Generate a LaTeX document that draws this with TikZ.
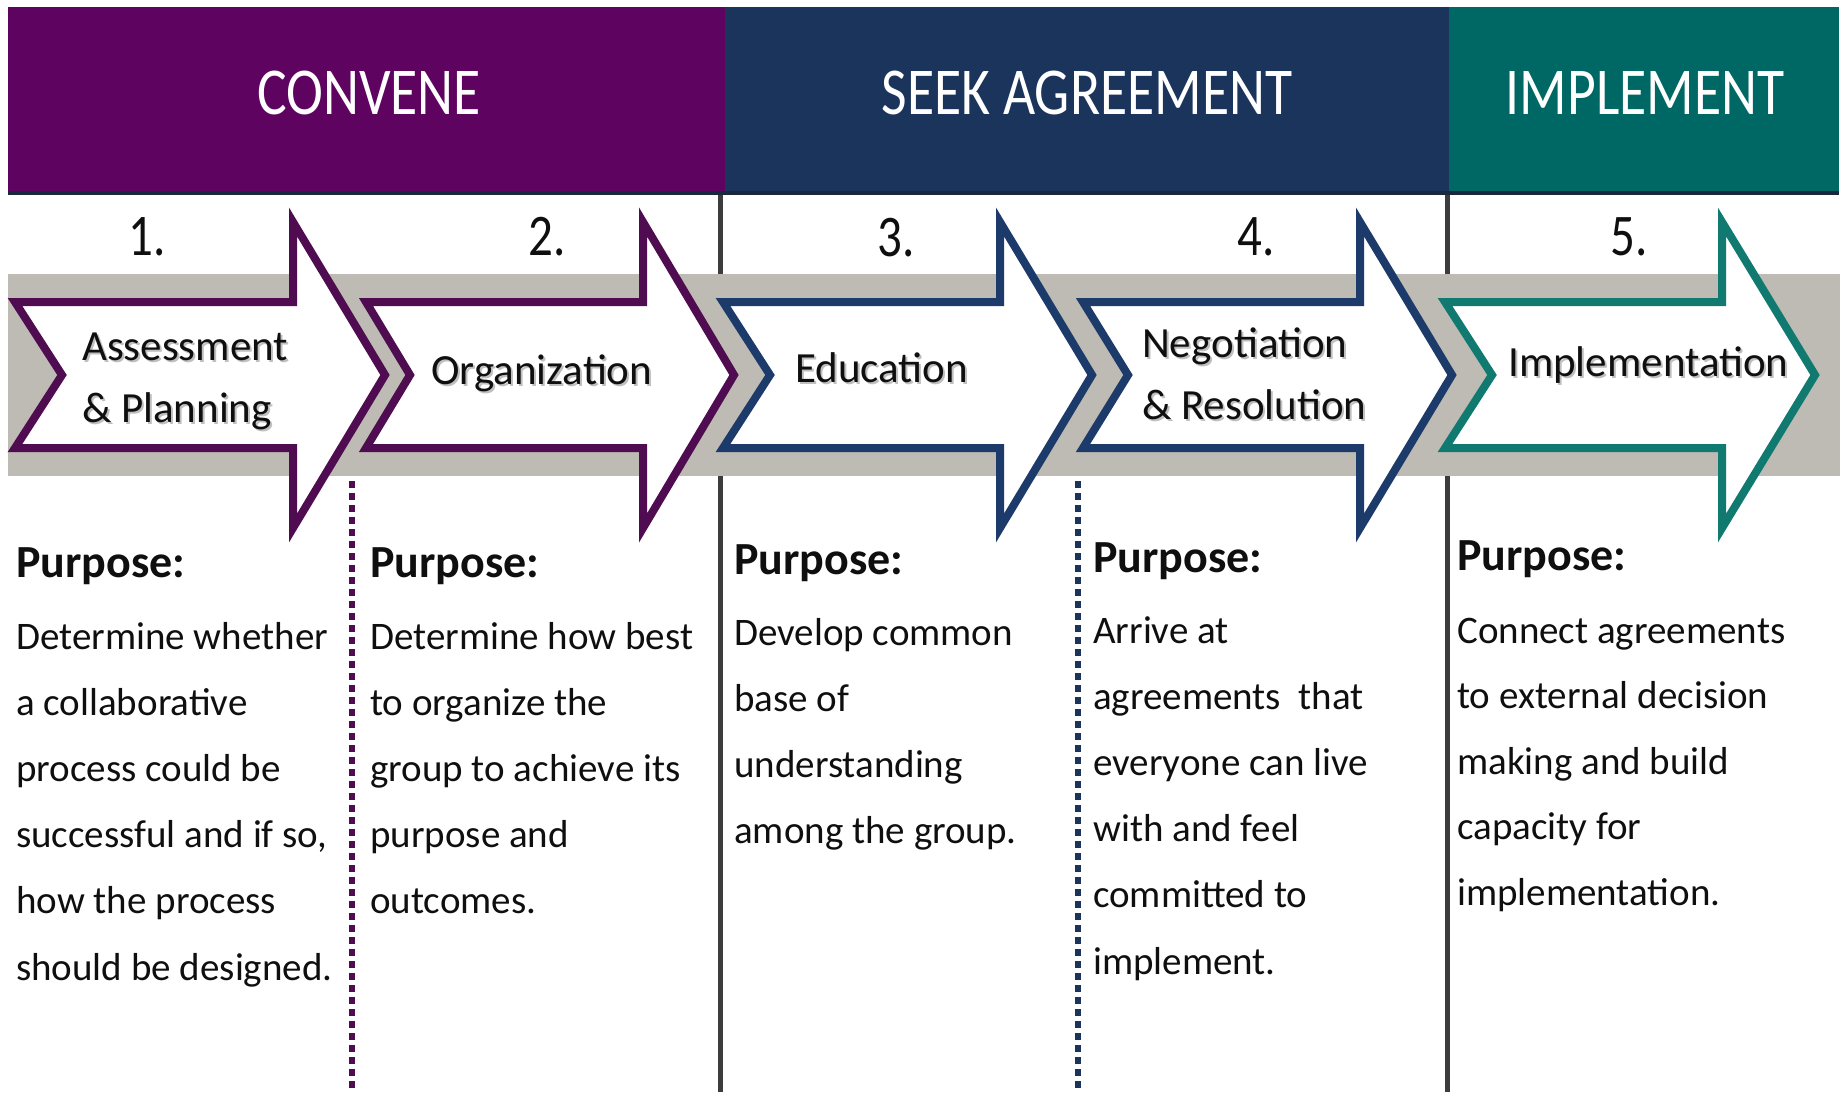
\documentclass[tikz,border=0pt]{standalone}
\usepackage{fontspec}
\setmainfont{Carlito}
\newfontfamily\hdrfont[FakeStretch=0.83]{Carlito}
\definecolor{purpleH}{RGB}{94,4,96}
\definecolor{navyH}{RGB}{27,52,92}
\definecolor{tealH}{RGB}{0,104,100}
\definecolor{purpleL}{RGB}{80,12,80}
\definecolor{navyL}{RGB}{28,58,106}
\definecolor{tealL}{RGB}{16,122,112}
\definecolor{bandC}{RGB}{190,187,180}
\definecolor{vlineC}{RGB}{60,60,62}
\definecolor{hshadowC}{RGB}{25,40,60}
\definecolor{txtC}{RGB}{15,15,15}
\newcommand\procarrow[6]{%
  \draw[arrowshape, draw=#1] (#2,302) -- (#4,302) -- (#4,222) -- (#5,375) -- (#4,528) -- (#4,448) -- (#2,448) -- (#3,375) -- cycle;
  \coordinate (#6) at ({(#2+#5)/2},375);
}
\begin{document}
\begin{tikzpicture}[x=1pt,y=-1pt,
  hdr/.style={font=\hdrfont\fontsize{67}{70}\selectfont, text=white, inner sep=0pt, anchor=base},
  numlbl/.style={font=\hdrfont\fontsize{59}{60}\selectfont, text=txtC, inner sep=0pt, anchor=base west},
  albl/.style={font=\fontsize{43}{50}\selectfont, text=txtC, inner sep=0pt, anchor=base west},
  ashadow/.style={font=\fontsize{43}{50}\selectfont, text=black!45, opacity=0.55, inner sep=0pt, anchor=base west},
  purp/.style={font=\bfseries\fontsize{46}{50}\selectfont, text=txtC, inner sep=0pt, anchor=base west},
  body/.style={font=\fontsize{39}{45}\selectfont, text=txtC, inner sep=0pt, anchor=base west},
  arrowshape/.style={line width=8pt, fill=white, line join=miter, miter limit=20},
  vline/.style={draw=vlineC, line width=5pt},
  dotline/.style={line width=6pt, dash pattern=on 7pt off 5pt}
]
\useasboundingbox (0,0) rectangle (1843,1092);
\fill[white] (0,0) rectangle (1843,1092);

% header
\fill[hshadowC] (8,10) rectangle (1839,195);
\fill[purpleH] (8,7) rectangle (725,191);
\fill[navyH] (725,7) rectangle (1449,191);
\fill[tealH] (1449,7) rectangle (1839,191);
\node[hdr] (hconv) at (369,114) {CONVENE};
\node[hdr] (hseek) at (1087,114) {SEEK AGREEMENT};
\node[hdr] (himpl) at (1645,114) {IMPLEMENT};

% column dividers
\coordinate (v1t) at (720,195); \coordinate (v1b) at (720,1092);
\coordinate (v2t) at (1447,195); \coordinate (v2b) at (1447,1092);
\coordinate (d1t) at (352,481); \coordinate (d1b) at (352,1092);
\coordinate (d2t) at (1078,481); \coordinate (d2b) at (1078,1092);
\draw[vline] (v1t) -- (v1b);
\draw[vline] (v2t) -- (v2b);
\draw[dotline, draw=purpleL] (d1t) -- (d1b);
\draw[dotline, draw=navyH] (d2t) -- (d2b);

% gray band
\fill[bandC] (8,274) rectangle (1840,476);

% arrows
\procarrow{purpleL}{15}{62}{293}{385}{a1}
\procarrow{purpleL}{366}{410}{643}{734}{a2}
\procarrow{navyL}{723}{770}{1000}{1092}{a3}
\procarrow{navyL}{1083}{1128}{1360}{1452}{a4}
\procarrow{tealL}{1445}{1492}{1722}{1815}{a5}

% step numbers
\node[numlbl] (n1) at (128,255) {1.};
\node[numlbl] (n2) at (528,255) {2.};
\node[numlbl] (n3) at (877,256) {3.};
\node[numlbl] (n4) at (1237,255) {4.};
\node[numlbl] (n5) at (1610,255) {5.};

% arrow labels (with soft shadow)
\node[ashadow] (s1a) at (84,362) {Assessment};
\node[ashadow] (s1b) at (84,424) {\& Planning};
\node[ashadow] (s2) at (433,386) {Organization};
\node[ashadow] (s3) at (797,384) {Education};
\node[ashadow] (s4a) at (1144,359) {Negotiation};
\node[ashadow] (s4b) at (1144,421) {\& Resolution};
\node[ashadow] (s5) at (1510,378) {Implementation};
\node[albl] (l1a) at (82,360) {Assessment};
\node[albl] (l1b) at (82,422) {\& Planning};
\node[albl] (l2) at (431,384) {Organization};
\node[albl] (l3) at (795,382) {Education};
\node[albl] (l4a) at (1142,357) {Negotiation};
\node[albl] (l4b) at (1142,419) {\& Resolution};
\node[albl] (l5) at (1508,376) {Implementation};

% purpose texts
\node[purp] (p1) at (16,577) {Purpose:};
\node[purp] (p2) at (370,577) {Purpose:};
\node[purp] (p3) at (734,574) {Purpose:};
\node[purp] (p4) at (1093,572) {Purpose:};
\node[purp] (p5) at (1457,570) {Purpose:};

\foreach \t [count=\i] in {Determine whether, a collaborative, process could be, {successful and if so,}, how the process, should be designed.}
  \node[body] (c1l\i) at (16,{649+66.2*(\i-1)}) {\t};
\foreach \t [count=\i] in {Determine how best, to organize the, group to achieve its, purpose and, outcomes.}
  \node[body] (c2l\i) at (370,{649+66.2*(\i-1)}) {\t};
\foreach \t [count=\i] in {Develop common, base of, understanding, among the group.}
  \node[body] (c3l\i) at (734,{645+66.2*(\i-1)}) {\t};
\foreach \t [count=\i] in {Arrive at, agreements\ \ that, everyone can live, with and feel, committed to, implement.}
  \node[body] (c4l\i) at (1093,{643+66.2*(\i-1)}) {\t};
\foreach \t [count=\i] in {Connect agreements, to external decision, making and build, capacity for, implementation.}
  \node[body] (c5l\i) at (1457,{643+65.5*(\i-1)}) {\t};
\end{tikzpicture}
\end{document}
